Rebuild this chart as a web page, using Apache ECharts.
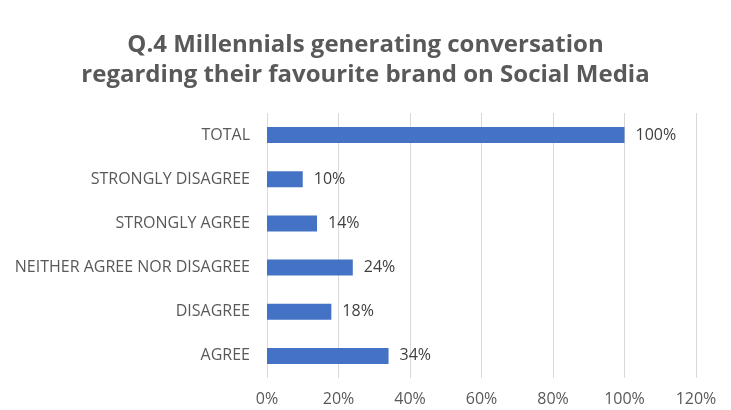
<!DOCTYPE html>
<html>
<head>
<meta charset="utf-8">
<script src="https://cdn.jsdelivr.net/npm/echarts@6/dist/echarts.min.js"></script>
<style>
  html, body { margin: 0; padding: 0; background: #fff; }
  #chart { width: 731px; height: 410px; }
</style>
</head>
<body>
<div id="chart"></div>
<script>
// Survey responses, listed bottom-to-top as drawn on the category axis
const categories = [
  'AGREE',
  'DISAGREE',
  'NEITHER AGREE NOR DISAGREE',
  'STRONGLY AGREE',
  'STRONGLY DISAGREE',
  'TOTAL'
];
const percentages = [34, 18, 24, 14, 10, 100];
const axisTicks = [0, 20, 40, 60, 80, 100, 120];

const titleLines = [
  'Q.4 Millennials generating conversation',
  'regarding their favourite brand on Social Media'
];

const chart = echarts.init(document.getElementById('chart'), null, { renderer: 'canvas' });

chart.setOption({
  backgroundColor: '#ffffff',
  animation: false,
  title: {
    text: titleLines.join('\n'),
    left: 'center',
    top: 25,
    textStyle: {
      fontFamily: 'Open Sans',
      fontWeight: 'bold',
      fontSize: 24,
      lineHeight: 30,
      color: '#595959'
    }
  },
  grid: {
    left: 267,
    right: 35,
    top: 113,
    bottom: 32,
    containLabel: false
  },
  xAxis: {
    type: 'value',
    min: axisTicks[0],
    max: axisTicks[axisTicks.length - 1],
    interval: axisTicks[1] - axisTicks[0],
    axisLine: { show: false },
    axisTick: { show: false },
    axisLabel: {
      formatter: '{value}%',
      color: '#595959',
      fontFamily: 'Open Sans',
      fontSize: 16,
      margin: 13
    },
    splitLine: { lineStyle: { color: '#d9d9d9', width: 1 } }
  },
  yAxis: {
    type: 'category',
    data: categories,
    axisLine: { show: false },
    axisTick: { show: false },
    axisLabel: {
      color: '#595959',
      fontFamily: 'Open Sans',
      fontSize: 16,
      margin: 17
    }
  },
  series: [{
    type: 'bar',
    data: percentages,
    barWidth: 16,
    itemStyle: { color: '#4472c4' },
    label: {
      show: true,
      position: 'right',
      distance: 11,
      formatter: '{c}%',
      color: '#404040',
      fontFamily: 'Open Sans',
      fontSize: 16
    }
  }]
});
</script>
</body>
</html>
